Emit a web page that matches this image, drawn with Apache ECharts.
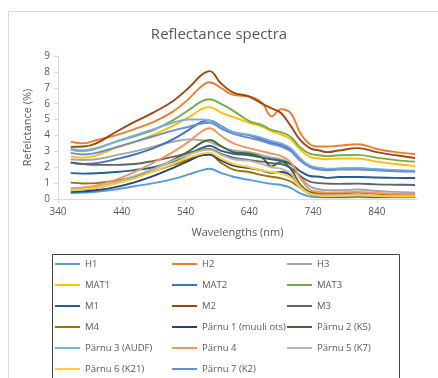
<!DOCTYPE html>
<html><head><meta charset="utf-8">
<script src="https://cdn.jsdelivr.net/npm/echarts@6/dist/echarts.min.js"></script>
<style>html,body{margin:0;padding:0;background:#fff}#c{width:438px;height:378px}</style>
</head><body><div id="c"></div>
<script>
const titleText = 'Reflectance spectra';
const xName = 'Wavelengths (nm)';
const yName = 'Refelctance (%)';
const xTicks = [340, 440, 540, 640, 740, 840];
const wavelengths = [360, 380, 400, 430, 460, 490, 520, 545, 565, 578, 595, 615, 640, 660, 675, 690, 705, 720, 735, 750, 763, 780, 810, 840, 870, 900];

const H1   = [0.38,0.40,0.45,0.60,0.80,1.00,1.25,1.55,1.80,1.90,1.65,1.40,1.20,1.05,0.95,0.88,0.70,0.35,0.15,0.10,0.10,0.10,0.12,0.10,0.10,0.10];
const H2   = [3.60,3.50,3.70,4.00,4.40,4.85,5.50,6.30,7.10,7.35,7.00,6.55,6.45,6.05,5.20,5.65,5.40,4.15,3.45,3.30,3.30,3.35,3.45,3.15,2.95,2.83];
const H3   = [2.50,2.45,2.50,2.75,3.00,3.30,3.60,3.75,3.70,3.60,3.30,3.05,2.95,2.75,2.60,2.50,2.20,1.40,0.80,0.60,0.55,0.55,0.60,0.50,0.45,0.40];
const MAT1 = [2.68,2.60,2.75,3.20,3.60,4.05,4.60,5.15,5.65,5.78,5.45,5.15,4.80,4.55,4.25,4.05,3.75,3.10,2.65,2.55,2.50,2.55,2.55,2.35,2.20,2.07];
const MAT2 = [2.30,2.20,2.25,2.50,2.80,3.20,3.75,4.35,4.85,4.95,4.60,4.20,4.00,3.75,3.55,3.40,3.10,2.50,2.05,1.95,1.85,1.90,1.92,1.85,1.80,1.75];
const MAT3 = [3.15,3.05,3.20,3.60,3.95,4.35,4.95,5.60,6.15,6.28,6.00,5.55,4.90,4.65,4.35,4.20,3.90,3.25,2.85,2.75,2.70,2.75,2.78,2.60,2.45,2.35];
const M1   = [1.63,1.60,1.62,1.70,1.82,2.00,2.35,2.80,3.20,3.35,3.05,2.85,2.75,2.60,2.50,2.40,2.20,1.75,1.45,1.40,1.33,1.38,1.38,1.35,1.33,1.32];
const M2   = [3.28,3.30,3.50,4.20,4.85,5.45,6.15,7.00,7.80,8.05,7.30,6.70,6.45,6.00,5.70,5.40,4.60,3.70,3.20,3.05,2.95,3.05,3.20,2.95,2.75,2.58];
const M3   = [2.30,2.20,2.15,2.15,2.20,2.40,2.65,2.90,3.10,3.15,2.85,2.60,2.45,2.35,2.25,2.20,1.95,1.45,1.10,1.00,0.97,0.95,0.97,0.92,0.90,0.88];
const M4   = [1.03,0.98,1.00,1.15,1.40,1.75,2.15,2.50,2.75,2.80,2.30,1.85,1.70,1.50,1.40,1.30,1.10,0.70,0.45,0.35,0.33,0.35,0.40,0.33,0.30,0.30];
const P1   = [0.45,0.48,0.55,0.75,1.05,1.45,1.95,2.40,2.75,2.80,2.45,2.10,1.95,1.80,1.65,1.70,1.50,0.75,0.30,0.18,0.15,0.15,0.18,0.14,0.12,0.12];
const P2   = [0.55,0.60,0.70,1.00,1.40,1.90,2.45,3.00,3.55,3.72,3.35,2.95,2.85,2.60,2.05,2.35,1.90,0.90,0.40,0.25,0.20,0.20,0.22,0.18,0.15,0.15];
const P3   = [3.10,3.00,3.15,3.60,4.00,4.40,4.80,5.00,5.00,4.95,4.55,4.20,4.05,3.85,3.65,3.50,3.20,2.55,2.10,1.95,1.90,1.92,1.95,1.88,1.82,1.78];
const P4   = [0.68,0.72,0.85,1.20,1.70,2.30,2.95,3.60,4.25,4.45,4.00,3.50,3.20,3.00,2.85,2.70,2.30,1.30,0.60,0.45,0.40,0.42,0.45,0.38,0.32,0.30];
const P5   = [0.60,0.65,0.75,1.05,1.45,1.90,2.40,2.80,3.05,3.10,2.80,2.50,2.40,2.20,2.00,1.90,1.60,0.80,0.35,0.25,0.22,0.22,0.25,0.20,0.18,0.17];
const P6   = [0.55,0.60,0.70,0.95,1.30,1.75,2.20,2.60,2.85,2.90,2.55,2.20,2.00,1.80,1.70,1.60,1.35,0.70,0.30,0.20,0.18,0.20,0.22,0.18,0.15,0.15];
const P7   = [2.90,2.80,2.90,3.25,3.60,3.95,4.30,4.55,4.75,4.80,4.45,4.10,3.85,3.65,3.45,3.30,3.00,2.40,2.00,1.85,1.80,1.85,1.85,1.80,1.75,1.72];

const seriesNames = ['H1','H2','H3','MAT1','MAT2','MAT3','M1','M2','M3','M4','Pärnu 1 (muuli ots)','Pärnu 2 (K5)','Pärnu 3 (AUDF)','Pärnu 4','Pärnu 5 (K7)','Pärnu 6 (K21)','Pärnu 7 (K2)'];
const seriesValues = [H1,H2,H3,MAT1,MAT2,MAT3,M1,M2,M3,M4,P1,P2,P3,P4,P5,P6,P7];
const colors = ['#5B9BD5','#ED7D31','#A5A5A5','#FFC000','#4472C4','#70AD47','#255E91','#9E480E','#636363','#997300','#264478','#43682B','#7CAFDD','#F1975A','#B7B7B7','#FFCD33','#698ED0'];

const legendCols = [
  ['H1','MAT1','M1','M4','Pärnu 3 (AUDF)','Pärnu 6 (K21)'],
  ['H2','MAT2','M2','Pärnu 1 (muuli ots)','Pärnu 4','Pärnu 7 (K2)'],
  ['H3','MAT3','M3','Pärnu 2 (K5)','Pärnu 5 (K7)']
];
const legendLeft = [55, 172, 287];

const font = '"Open Sans", sans-serif';
const chart = echarts.init(document.getElementById('c'), null, {renderer:'canvas'});
chart.setOption({
  animation: false,
  color: colors,
  title: {text: titleText, left: 'center', top: 22, textStyle: {fontFamily: font, fontSize: 15, fontWeight: 'normal', color: '#595959'}},
  graphic: [
    {type:'rect', shape:{x:8.5, y:11.5, width:460, height:420}, style:{fill:'none', stroke:'#d9d9d9', lineWidth:1}, z:-10},
    {type:'rect', shape:{x:52.5, y:254.5, width:347, height:200}, style:{fill:'none', stroke:'#404040', lineWidth:1}, z:-5}
  ],
  legend: legendCols.map((col, i) => ({
    data: col, orient: 'vertical', left: legendLeft[i], top: 257, height: 200, width: 120,
    icon: 'rect', itemWidth: 25, itemHeight: 2, itemGap: 7, padding: 0,
    textStyle: {fontFamily: font, fontSize: 9.5, color: '#595959', lineHeight: 14}
  })),
  grid: {left: 58, right: 21, top: 56, bottom: 179},
  xAxis: {
    type: 'value', min: 340, max: 903,
    name: xName, nameLocation: 'middle', nameGap: 28,
    nameTextStyle: {fontFamily: font, fontSize: 11, color: '#595959'},
    axisLine: {show: true, lineStyle: {color: '#d9d9d9'}},
    axisTick: {show: true, length: 4, customValues: xTicks, lineStyle: {color: '#d9d9d9'}},
    axisLabel: {customValues: xTicks, margin: 8, fontFamily: font, fontSize: 10, color: '#595959'},
    splitLine: {show: false}
  },
  yAxis: {
    type: 'value', min: 0, max: 9, interval: 1,
    name: yName, nameLocation: 'middle', nameGap: 25, nameRotate: 90,
    nameTextStyle: {fontFamily: font, fontSize: 11, color: '#595959'},
    axisLine: {show: true, lineStyle: {color: '#d9d9d9'}},
    axisTick: {show: true, length: 4, lineStyle: {color: '#d9d9d9'}},
    axisLabel: {margin: 8, fontFamily: font, fontSize: 10, color: '#595959'},
    splitLine: {show: false}
  },
  series: seriesNames.map((n, i) => ({
    name: n, type: 'line', showSymbol: false, symbol: 'none', smooth: 0.4,
    lineStyle: {width: 1.9, color: colors[i]}, itemStyle: {color: colors[i]},
    data: wavelengths.map((w, j) => [w, seriesValues[i][j]])
  }))
});
</script></body></html>
